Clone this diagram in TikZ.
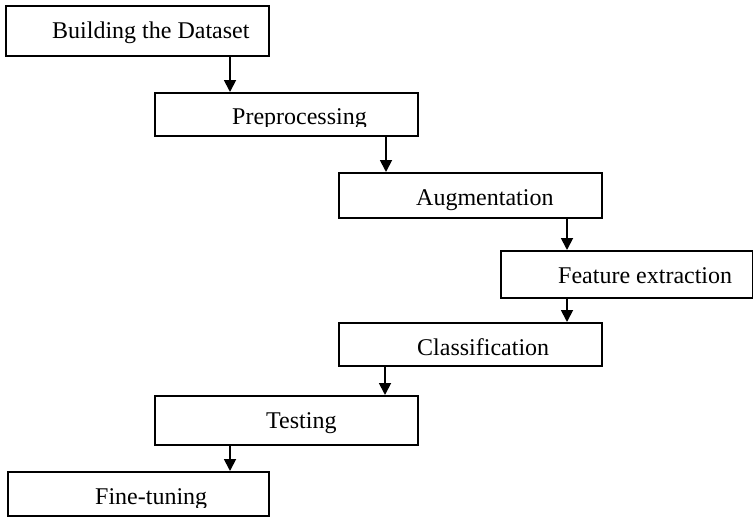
\documentclass[tikz,border=0pt]{standalone}
\usepackage{fontspec}
\setmainfont{Liberation Serif}
\usetikzlibrary{arrows.meta}
\begin{document}
\begin{tikzpicture}[x=1pt,y=-1pt,
  stagebox/.style={draw=black, line width=1.5pt, inner sep=0pt, anchor=north west},
  stagetext/.style={inner sep=0pt, anchor=base west, font=\fontsize{24}{28}\selectfont},
  flow/.style={line width=1.8pt, -{Triangle[width=12pt,length=12pt]}}]
\useasboundingbox (0,0) rectangle (753,517);

% stage frames
\node[stagebox, minimum width=263pt, minimum height=50pt] (b1) at (5,5) {};
\node[stagebox, minimum width=263pt, minimum height=43pt] (b2) at (154,92) {};
\node[stagebox, minimum width=263pt, minimum height=45pt] (b3) at (338,172) {};
\node[stagebox, minimum width=252pt, minimum height=47pt] (b4) at (500,250) {};
\node[stagebox, minimum width=263pt, minimum height=43pt] (b5) at (338,322) {};
\node[stagebox, minimum width=263pt, minimum height=49pt] (b6) at (154,395) {};
\node[stagebox, minimum width=261pt, minimum height=44pt] (b7) at (7,471) {};

% stage captions
\node[stagetext] (t1) at (52,38) {Building the Dataset};
\begin{scope}
  \clip (154,92) rectangle (417,126);
  \node[stagetext] (t2) at (232,124) {Preprocessing};
\end{scope}
\node[stagetext] (t3) at (416,205) {Augmentation};
\node[stagetext] (t4) at (558,283) {Feature extraction};
\node[stagetext] (t5) at (417,355) {Classification};
\node[stagetext] (t6) at (266,428) {Testing};
\begin{scope}
  \clip (7,471) rectangle (268,507);
  \node[stagetext] (t7) at (95,504) {Fine-tuning};
\end{scope}

% connector columns
\coordinate (c1) at (230,0);
\coordinate (c2) at (386,0);
\coordinate (c3) at (567,0);
\coordinate (c5) at (385,0);

% connectors
\draw[flow] (b1.south -| c1) -- (b2.north -| c1);
\draw[flow] (b2.south -| c2) -- (b3.north -| c2);
\draw[flow] (b3.south -| c3) -- (b4.north -| c3);
\draw[flow] (b4.south -| c3) -- (b5.north -| c3);
\draw[flow] (b5.south -| c5) -- (b6.north -| c5);
\draw[flow] (b6.south -| c1) -- (b7.north -| c1);
\end{tikzpicture}
\end{document}
